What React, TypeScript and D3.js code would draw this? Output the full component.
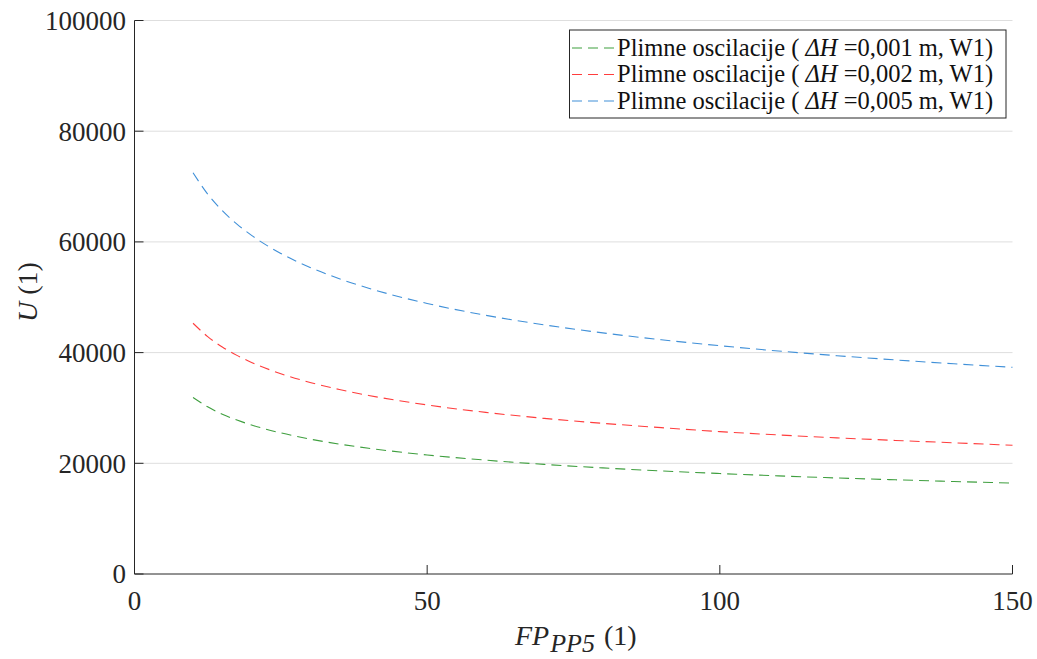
import React from "react";
import * as d3 from "d3";

const xValues = [10, 12.5, 15, 17.5, 20, 25, 30, 35, 40, 50, 60, 70, 80, 90, 100, 110, 120, 130, 140, 150];
const greenValues = [31900, 30200, 28880, 27810, 26920, 25490, 24370, 23470, 22720, 21510, 20570, 19800, 19170, 18620, 18150, 17730, 17350, 17020, 16710, 16430];
const redValues = [45300, 42890, 41010, 39500, 38220, 36190, 34610, 33330, 32260, 30540, 29200, 28120, 27220, 26440, 25720, 25120, 24600, 24130, 23700, 23250];
const blueValues = [72500, 68640, 65640, 63210, 61180, 57920, 55390, 53340, 51630, 48880, 46740, 45010, 43560, 42320, 41240, 40290, 39440, 38680, 37980, 37340];
const seriesNames = ["0,001", "0,002", "0,005"];
const seriesColors = ["#3f9f3f", "#ff3d3d", "#4090d8"];
const xTicks = [0, 50, 100, 150];
const yTicks = [0, 20000, 40000, 60000, 80000, 100000];

const W = 1037, H = 659;
const M = { left: 134.5, right: 1012.5, top: 20.5, bottom: 574 };
const FONT = "'Liberation Serif', 'Times New Roman', serif";

export default function App() {
  const x = d3.scaleLinear().domain([0, 150]).range([M.left, M.right]);
  const y = d3.scaleLinear().domain([0, 100000]).range([M.bottom, M.top]);
  const line = d3
    .line<[number, number]>()
    .x((d) => x(d[0]))
    .y((d) => y(d[1]))
    .curve(d3.curveMonotoneX);
  const all = [greenValues, redValues, blueValues];
  const axisColor = "#262626";
  const dash = "10,6";
  const legX = 569.5, legY = 30, legW = 436.5, legH = 88;
  return (
    <svg width={W} height={H} style={{ position: "absolute", left: 0, top: 0, background: "#fff" }} fontFamily={FONT}>
      <rect x={0} y={0} width={W} height={H} fill="#fff" />
      {yTicks.slice(1).map((t) => (
        <line key={"g" + t} x1={M.left} x2={M.right} y1={y(t)} y2={y(t)} stroke="#dedede" strokeWidth={1} />
      ))}
      <line x1={M.left} x2={M.left} y1={M.top} y2={M.bottom} stroke={axisColor} strokeWidth={1} />
      <line x1={M.left} x2={M.right} y1={M.bottom} y2={M.bottom} stroke={axisColor} strokeWidth={1} />
      {yTicks.map((t) => (
        <g key={"y" + t}>
          <line x1={M.left} x2={M.left + 9} y1={y(t)} y2={y(t)} stroke={axisColor} />
          <text x={126} y={y(t)} dy="0.35em" textAnchor="end" fontSize={27} fill="#262626">
            {t}
          </text>
        </g>
      ))}
      {xTicks.map((t) => (
        <g key={"x" + t}>
          <line x1={x(t)} x2={x(t)} y1={M.bottom} y2={M.bottom - 9} stroke={axisColor} />
          <text x={x(t)} y={610} textAnchor="middle" fontSize={27} fill="#262626">
            {t}
          </text>
        </g>
      ))}
      {all.map((vals, i) => (
        <path
          key={"s" + i}
          d={line(xValues.map((xv, j) => [xv, vals[j]] as [number, number])) || ""}
          fill="none"
          stroke={seriesColors[i]}
          strokeWidth={1.1}
          strokeDasharray={dash}
        />
      ))}
      <text x={515} y={645} fontSize={28} fill="#262626">
        <tspan fontStyle="italic">FP</tspan>
        <tspan fontStyle="italic" fontSize={26} dy={7} dx={1}>PP5</tspan>
        <tspan dy={-7} dx={2}> (1)</tspan>
      </text>
      <text transform={`translate(37,292) rotate(-90)`} textAnchor="middle" fontSize={28} fill="#262626">
        <tspan fontStyle="italic">U</tspan>
        <tspan> (1)</tspan>
      </text>
      <rect x={legX} y={legY} width={legW} height={legH} fill="#fff" stroke="#262626" strokeWidth={1} />
      {seriesNames.map((n, i) => {
        const cy = 48 + i * 26.5;
        return (
          <g key={"l" + i}>
            <line x1={572} x2={615} y1={cy} y2={cy} stroke={seriesColors[i]} strokeWidth={1.1} strokeDasharray="10,6" />
            <text x={617} y={cy + 7.5} fontSize={24.5} fill="#111">
              <tspan>Plimne oscilacije ( </tspan>
              <tspan fontStyle="italic">ΔH</tspan>
              <tspan> ={n} m, W1)</tspan>
            </text>
          </g>
        );
      })}
    </svg>
  );
}
